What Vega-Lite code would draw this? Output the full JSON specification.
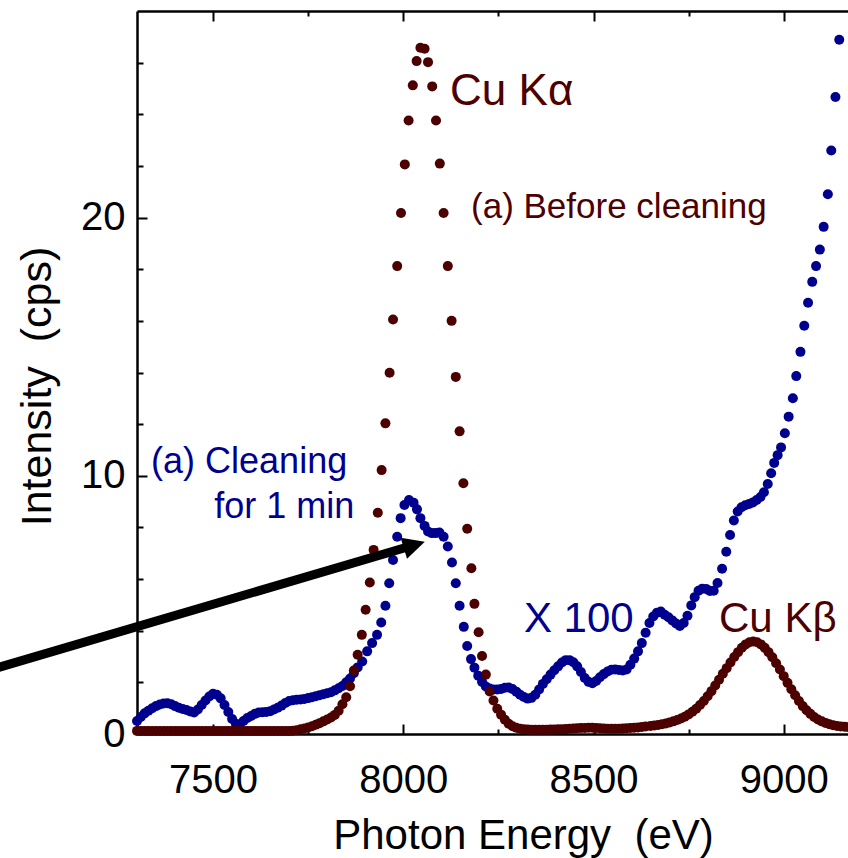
{
  "$schema": "https://vega.github.io/schema/vega-lite/v6.json",
  "width": 711,
  "height": 723,
  "autosize": {"type": "none"},
  "padding": {"left": 137, "top": 11, "right": 0, "bottom": 124},
  "background": "white",
  "config": {
    "view": {"stroke": null},
    "font": "Liberation Sans",
    "axis": {
      "grid": false,
      "labelFont": "Liberation Sans",
      "titleFont": "Liberation Sans",
      "labelColor": "#000000",
      "titleColor": "#000000",
      "domainColor": "#000000",
      "tickColor": "#000000",
      "titleFontWeight": "normal",
      "labelFlush": false,
      "labelOverlap": false
    }
  },
  "resolve": {"axis": {"x": "independent", "y": "independent"}},
  "datasets": {
    "before": [
      {"energy":7300,"intensity":0.12},{"energy":7310,"intensity":0.12},{"energy":7320,"intensity":0.12},{"energy":7330,"intensity":0.12},{"energy":7340,"intensity":0.12},{"energy":7350,"intensity":0.12},{"energy":7360,"intensity":0.12},{"energy":7370,"intensity":0.12},{"energy":7380,"intensity":0.12},{"energy":7390,"intensity":0.12},
      {"energy":7400,"intensity":0.12},{"energy":7410,"intensity":0.12},{"energy":7420,"intensity":0.12},{"energy":7430,"intensity":0.12},{"energy":7440,"intensity":0.12},{"energy":7450,"intensity":0.12},{"energy":7460,"intensity":0.12},{"energy":7470,"intensity":0.12},{"energy":7480,"intensity":0.12},{"energy":7490,"intensity":0.12},
      {"energy":7500,"intensity":0.12},{"energy":7510,"intensity":0.12},{"energy":7520,"intensity":0.12},{"energy":7530,"intensity":0.12},{"energy":7540,"intensity":0.12},{"energy":7550,"intensity":0.12},{"energy":7560,"intensity":0.12},{"energy":7570,"intensity":0.12},{"energy":7580,"intensity":0.12},{"energy":7590,"intensity":0.12},
      {"energy":7600,"intensity":0.12},{"energy":7610,"intensity":0.12},{"energy":7620,"intensity":0.12},{"energy":7630,"intensity":0.12},{"energy":7640,"intensity":0.12},{"energy":7650,"intensity":0.12},{"energy":7660,"intensity":0.12},{"energy":7670,"intensity":0.12},{"energy":7680,"intensity":0.12},{"energy":7690,"intensity":0.12},
      {"energy":7700,"intensity":0.12},{"energy":7710,"intensity":0.13},{"energy":7720,"intensity":0.15},{"energy":7730,"intensity":0.18},{"energy":7740,"intensity":0.21},{"energy":7750,"intensity":0.25},{"energy":7760,"intensity":0.3},{"energy":7770,"intensity":0.36},{"energy":7780,"intensity":0.42},{"energy":7790,"intensity":0.49},
      {"energy":7800,"intensity":0.56},{"energy":7810,"intensity":0.64},{"energy":7820,"intensity":0.74},{"energy":7830,"intensity":0.9},{"energy":7840,"intensity":1.15},{"energy":7850,"intensity":1.42},{"energy":7860,"intensity":1.85},{"energy":7870,"intensity":2.46},{"energy":7880,"intensity":3.07},{"energy":7891,"intensity":3.84},
      {"energy":7901,"intensity":4.81},{"energy":7912,"intensity":5.87},{"energy":7922,"intensity":7.13},{"energy":7933,"intensity":8.57},{"energy":7943,"intensity":10.22},{"energy":7953,"intensity":12.03},{"energy":7964,"intensity":13.99},{"energy":7973,"intensity":16.05},{"energy":7984,"intensity":18.12},{"energy":7994,"intensity":20.18},
      {"energy":8004,"intensity":22.06},{"energy":8014,"intensity":23.76},{"energy":8025,"intensity":25.12},{"energy":8035,"intensity":26.06},{"energy":8045,"intensity":26.58},{"energy":8056,"intensity":26.54},{"energy":8065,"intensity":26.02},{"energy":8076,"intensity":25.08},{"energy":8086,"intensity":23.76},{"energy":8096,"intensity":22.09},
      {"energy":8106,"intensity":20.18},{"energy":8117,"intensity":18.12},{"energy":8127,"intensity":16.0},{"energy":8138,"intensity":13.83},{"energy":8148,"intensity":11.72},{"energy":8158,"intensity":9.71},{"energy":8168,"intensity":7.95},{"energy":8179,"intensity":6.42},{"energy":8187,"intensity":5.04},{"energy":8198,"intensity":3.94},
      {"energy":8207,"intensity":3.02},{"energy":8217,"intensity":2.3},{"energy":8227,"intensity":1.65},{"energy":8237,"intensity":1.3},{"energy":8247,"intensity":0.98},{"energy":8257,"intensity":0.75},{"energy":8267,"intensity":0.55},{"energy":8277,"intensity":0.4},{"energy":8287,"intensity":0.3},{"energy":8297,"intensity":0.24},
      {"energy":8307,"intensity":0.2},{"energy":8317,"intensity":0.18},{"energy":8327,"intensity":0.17},{"energy":8337,"intensity":0.16},{"energy":8347,"intensity":0.16},{"energy":8357,"intensity":0.16},{"energy":8367,"intensity":0.16},{"energy":8377,"intensity":0.16},{"energy":8387,"intensity":0.17},{"energy":8397,"intensity":0.17},
      {"energy":8407,"intensity":0.18},{"energy":8417,"intensity":0.18},{"energy":8427,"intensity":0.19},{"energy":8437,"intensity":0.2},{"energy":8447,"intensity":0.21},{"energy":8457,"intensity":0.22},{"energy":8467,"intensity":0.23},{"energy":8477,"intensity":0.23},{"energy":8487,"intensity":0.24},{"energy":8497,"intensity":0.24},
      {"energy":8507,"intensity":0.23},{"energy":8517,"intensity":0.22},{"energy":8527,"intensity":0.21},{"energy":8537,"intensity":0.2},{"energy":8547,"intensity":0.2},{"energy":8557,"intensity":0.2},{"energy":8567,"intensity":0.2},{"energy":8577,"intensity":0.21},{"energy":8587,"intensity":0.22},{"energy":8597,"intensity":0.23},
      {"energy":8607,"intensity":0.24},{"energy":8617,"intensity":0.25},{"energy":8627,"intensity":0.27},{"energy":8637,"intensity":0.29},
      {"energy":8650,"intensity":0.31},{"energy":8660,"intensity":0.33},{"energy":8670,"intensity":0.35},{"energy":8680,"intensity":0.38},{"energy":8690,"intensity":0.41},{"energy":8700,"intensity":0.45},{"energy":8710,"intensity":0.49},{"energy":8720,"intensity":0.54},{"energy":8730,"intensity":0.6},{"energy":8740,"intensity":0.67},
      {"energy":8750,"intensity":0.76},{"energy":8760,"intensity":0.86},{"energy":8770,"intensity":0.98},{"energy":8780,"intensity":1.12},{"energy":8790,"intensity":1.28},{"energy":8800,"intensity":1.46},{"energy":8810,"intensity":1.66},{"energy":8820,"intensity":1.88},{"energy":8830,"intensity":2.1},{"energy":8840,"intensity":2.33},
      {"energy":8850,"intensity":2.55},{"energy":8860,"intensity":2.77},{"energy":8870,"intensity":2.98},{"energy":8880,"intensity":3.17},{"energy":8890,"intensity":3.34},{"energy":8900,"intensity":3.47},{"energy":8910,"intensity":3.55},{"energy":8920,"intensity":3.58},{"energy":8930,"intensity":3.55},{"energy":8940,"intensity":3.47},
      {"energy":8950,"intensity":3.34},{"energy":8960,"intensity":3.17},{"energy":8970,"intensity":2.97},{"energy":8980,"intensity":2.74},{"energy":8990,"intensity":2.5},{"energy":9000,"intensity":2.24},{"energy":9010,"intensity":1.98},{"energy":9020,"intensity":1.73},{"energy":9030,"intensity":1.5},{"energy":9040,"intensity":1.28},
      {"energy":9050,"intensity":1.08},{"energy":9060,"intensity":0.92},{"energy":9070,"intensity":0.78},{"energy":9080,"intensity":0.66},{"energy":9090,"intensity":0.56},{"energy":9100,"intensity":0.49},{"energy":9110,"intensity":0.43},{"energy":9120,"intensity":0.38},{"energy":9130,"intensity":0.34},{"energy":9140,"intensity":0.31},
      {"energy":9150,"intensity":0.29},{"energy":9160,"intensity":0.28},{"energy":9170,"intensity":0.27}
    ],
    "after": [
      {"energy":7300,"intensity":0.5},{"energy":7310,"intensity":0.66},{"energy":7320,"intensity":0.8},{"energy":7330,"intensity":0.9},{"energy":7340,"intensity":1.0},{"energy":7350,"intensity":1.08},{"energy":7360,"intensity":1.14},{"energy":7370,"intensity":1.18},{"energy":7380,"intensity":1.19},{"energy":7390,"intensity":1.15},
      {"energy":7400,"intensity":1.08},{"energy":7410,"intensity":1.02},{"energy":7420,"intensity":0.97},{"energy":7430,"intensity":0.93},{"energy":7440,"intensity":0.87},{"energy":7450,"intensity":0.83},{"energy":7460,"intensity":0.95},{"energy":7470,"intensity":1.12},{"energy":7480,"intensity":1.3},{"energy":7490,"intensity":1.45},
      {"energy":7500,"intensity":1.56},{"energy":7510,"intensity":1.52},{"energy":7520,"intensity":1.38},{"energy":7530,"intensity":1.12},{"energy":7540,"intensity":0.85},{"energy":7550,"intensity":0.58},{"energy":7560,"intensity":0.4},{"energy":7570,"intensity":0.37},{"energy":7580,"intensity":0.5},{"energy":7590,"intensity":0.62},
      {"energy":7600,"intensity":0.7},{"energy":7610,"intensity":0.78},{"energy":7620,"intensity":0.83},{"energy":7630,"intensity":0.84},{"energy":7640,"intensity":0.85},{"energy":7650,"intensity":0.88},{"energy":7660,"intensity":0.95},{"energy":7670,"intensity":1.02},{"energy":7680,"intensity":1.1},{"energy":7690,"intensity":1.2},
      {"energy":7700,"intensity":1.28},{"energy":7710,"intensity":1.31},{"energy":7720,"intensity":1.33},{"energy":7730,"intensity":1.34},{"energy":7740,"intensity":1.36},{"energy":7750,"intensity":1.39},{"energy":7760,"intensity":1.42},{"energy":7770,"intensity":1.46},{"energy":7780,"intensity":1.5},{"energy":7790,"intensity":1.54},
      {"energy":7800,"intensity":1.58},{"energy":7810,"intensity":1.62},{"energy":7820,"intensity":1.69},{"energy":7830,"intensity":1.77},{"energy":7840,"intensity":1.86},{"energy":7850,"intensity":2.0},{"energy":7860,"intensity":2.15},{"energy":7870,"intensity":2.35},{"energy":7880,"intensity":2.58},{"energy":7892,"intensity":2.81},
      {"energy":7905,"intensity":3.2},{"energy":7918,"intensity":3.52},{"energy":7931,"intensity":3.84},{"energy":7942,"intensity":4.32},{"energy":7953,"intensity":4.97},{"energy":7963,"intensity":5.84},{"energy":7973,"intensity":6.74},{"energy":7984,"intensity":7.64},{"energy":7993,"intensity":8.36},{"energy":8003,"intensity":8.87},
      {"energy":8015,"intensity":9.06},{"energy":8027,"intensity":8.96},{"energy":8036,"intensity":8.7},{"energy":8045,"intensity":8.36},{"energy":8056,"intensity":8.06},{"energy":8065,"intensity":7.84},{"energy":8075,"intensity":7.78},{"energy":8085,"intensity":7.78},{"energy":8095,"intensity":7.8},{"energy":8106,"intensity":7.64},
      {"energy":8117,"intensity":7.26},{"energy":8128,"intensity":6.64},{"energy":8138,"intensity":5.84},{"energy":8148,"intensity":4.97},{"energy":8159,"intensity":4.15},{"energy":8168,"intensity":3.41},{"energy":8178,"intensity":2.9},{"energy":8187,"intensity":2.57},{"energy":8197,"intensity":2.26},{"energy":8207,"intensity":2.02},
      {"energy":8217,"intensity":1.84},{"energy":8227,"intensity":1.76},{"energy":8237,"intensity":1.72},{"energy":8247,"intensity":1.72},{"energy":8257,"intensity":1.74},{"energy":8267,"intensity":1.79},{"energy":8277,"intensity":1.8},{"energy":8287,"intensity":1.74},{"energy":8297,"intensity":1.64},{"energy":8307,"intensity":1.52},
      {"energy":8317,"intensity":1.43},{"energy":8327,"intensity":1.37},{"energy":8337,"intensity":1.4},{"energy":8347,"intensity":1.52},{"energy":8357,"intensity":1.72},{"energy":8367,"intensity":1.94},{"energy":8377,"intensity":2.12},{"energy":8387,"intensity":2.3},{"energy":8397,"intensity":2.47},{"energy":8407,"intensity":2.62},
      {"energy":8417,"intensity":2.77},{"energy":8427,"intensity":2.86},{"energy":8437,"intensity":2.86},{"energy":8447,"intensity":2.78},{"energy":8457,"intensity":2.62},{"energy":8467,"intensity":2.4},{"energy":8477,"intensity":2.17},{"energy":8487,"intensity":2.02},{"energy":8497,"intensity":1.97},{"energy":8507,"intensity":2.05},
      {"energy":8517,"intensity":2.2},{"energy":8527,"intensity":2.32},{"energy":8537,"intensity":2.42},{"energy":8547,"intensity":2.49},{"energy":8557,"intensity":2.5},{"energy":8567,"intensity":2.48},{"energy":8577,"intensity":2.46},{"energy":8587,"intensity":2.5},{"energy":8597,"intensity":2.68},{"energy":8607,"intensity":2.92},
      {"energy":8617,"intensity":3.2},{"energy":8627,"intensity":3.52},{"energy":8637,"intensity":3.92},{"energy":8647,"intensity":4.3},{"energy":8657,"intensity":4.55},{"energy":8667,"intensity":4.7},{"energy":8677,"intensity":4.74},{"energy":8687,"intensity":4.62},{"energy":8697,"intensity":4.52},{"energy":8707,"intensity":4.4},
      {"energy":8717,"intensity":4.28},{"energy":8727,"intensity":4.18},{"energy":8737,"intensity":4.3},{"energy":8747,"intensity":4.58},{"energy":8757,"intensity":4.98},{"energy":8766,"intensity":5.3},{"energy":8776,"intensity":5.55},{"energy":8786,"intensity":5.63},{"energy":8796,"intensity":5.62},{"energy":8806,"intensity":5.54},
      {"energy":8816,"intensity":5.55},{"energy":8826,"intensity":5.85},{"energy":8838,"intensity":6.4},{"energy":8849,"intensity":7.06},{"energy":8859,"intensity":7.71},{"energy":8869,"intensity":8.27},{"energy":8879,"intensity":8.62},{"energy":8889,"intensity":8.78},{"energy":8899,"intensity":8.86},{"energy":8909,"intensity":8.91},
      {"energy":8919,"intensity":8.97},{"energy":8929,"intensity":9.06},{"energy":8939,"intensity":9.18},{"energy":8948,"intensity":9.36},{"energy":8958,"intensity":9.68},{"energy":8967,"intensity":10.1},{"energy":8975,"intensity":10.5},{"energy":8984,"intensity":10.8},{"energy":8993,"intensity":11.1},{"energy":9003,"intensity":11.65},
      {"energy":9013,"intensity":12.29},{"energy":9024,"intensity":13.0},{"energy":9033,"intensity":13.86},{"energy":9044,"intensity":14.8},{"energy":9054,"intensity":15.81},{"energy":9064,"intensity":16.7},{"energy":9075,"intensity":17.51},{"energy":9085,"intensity":18.12},{"energy":9095,"intensity":18.76},{"energy":9105,"intensity":19.64},
      {"energy":9116,"intensity":20.9},{"energy":9125,"intensity":22.6},{"energy":9136,"intensity":24.67},{"energy":9146,"intensity":26.89}
    ]
  },
  "layer": [
    {
      "data": {"name": "after"},
      "mark": {"type": "circle", "size": 100, "color": "#00008f", "opacity": 1},
      "encoding": {
        "x": {"field": "energy", "type": "quantitative", "scale": {"domain": [7300, 9169], "nice": false, "zero": false},
              "axis": {"orient": "top", "ticks": false, "labels": false, "domain": true, "domainWidth": 2.5, "title": null}},
        "y": {"field": "intensity", "type": "quantitative", "scale": {"domain": [0, 28], "nice": false, "zero": false},
              "axis": {"orient": "left", "values": [2,4,6,8,12,14,16,18,22,24,26], "labels": false, "domain": false, "tickSize": 6, "tickWidth": 2, "offset": -6, "title": null}}
      }
    },
    {
      "data": {"name": "before"},
      "mark": {"type": "circle", "size": 100, "color": "#4c0000", "opacity": 1},
      "encoding": {
        "x": {"field": "energy", "type": "quantitative", "scale": {"domain": [7300, 9169], "nice": false, "zero": false},
              "axis": {"orient": "bottom", "values": [7500, 8000, 8500, 9000], "format": "d", "ticks": false, "domain": true, "domainWidth": 2.5,
                       "labelFontSize": 40, "labelPadding": 58, "labelBaseline": "alphabetic",
                       "title": "Photon Energy \u00a0(eV)", "titleFontSize": 42, "titleX": 386, "titleY": 114, "titleBaseline": "alphabetic", "titleAlign": "center"}},
        "y": {"field": "intensity", "type": "quantitative", "scale": {"domain": [0, 28], "nice": false, "zero": false},
              "axis": {"orient": "left", "values": [0, 10, 20], "ticks": false, "domain": true, "domainWidth": 2.5,
                       "labelFontSize": 40, "labelPadding": 12,
                       "title": "Intensity \u00a0(cps)", "titleFontSize": 43, "titleX": -87, "titleY": 375, "titleAngle": -90, "titleBaseline": "alphabetic", "titleAlign": "center"}}
      }
    },
    {
      "data": {"values": [{"energy": 6930, "intensity": 2.55, "energy2": 8029, "intensity2": 7.32}]},
      "mark": {"type": "rule", "color": "#000000", "strokeWidth": 9},
      "encoding": {
        "x": {"field": "energy", "type": "quantitative", "scale": {"domain": [7300, 9169], "nice": false, "zero": false},
              "axis": {"orient": "bottom", "values": [7500, 8000, 8500, 9000], "labels": false, "domain": false, "tickSize": 10, "tickWidth": 2, "offset": -10, "title": null}},
        "y": {"field": "intensity", "type": "quantitative", "scale": {"domain": [0, 28], "nice": false, "zero": false},
              "axis": {"orient": "left", "values": [10, 20], "labels": false, "domain": false, "tickSize": 10, "tickWidth": 2, "offset": -10, "title": null}},
        "x2": {"field": "energy2"},
        "y2": {"field": "intensity2"}
      }
    },
    {
      "data": {"values": [{"energy": 8029, "intensity": 7.32}]},
      "mark": {"type": "point", "shape": "M1,0L-1,-1L-1,1Z", "size": 484, "angle": -17, "filled": true, "color": "#000000", "opacity": 1},
      "encoding": {
        "x": {"field": "energy", "type": "quantitative", "scale": {"domain": [7300, 9169], "nice": false, "zero": false},
              "axis": {"orient": "bottom", "values": [7750, 8250, 8750], "labels": false, "domain": false, "tickSize": 5, "tickWidth": 2, "offset": -5, "title": null}},
        "y": {"field": "intensity", "type": "quantitative", "scale": {"domain": [0, 28], "nice": false, "zero": false}, "axis": null}
      }
    },
    {
      "data": {"values": [{"energy": 8123, "intensity": 24.36, "label": "Cu Kα"}]},
      "mark": {"type": "text", "align": "left", "baseline": "alphabetic", "fontSize": 44, "font": "Liberation Sans", "color": "#4c0000"},
      "encoding": {
        "x": {"field": "energy", "type": "quantitative", "scale": {"domain": [7300, 9169], "nice": false, "zero": false},
              "axis": {"orient": "top", "values": [7500, 8000, 8500, 9000], "labels": false, "domain": false, "tickSize": 10, "tickWidth": 2, "offset": -10, "title": null}},
        "y": {"field": "intensity", "type": "quantitative", "scale": {"domain": [0, 28], "nice": false, "zero": false}, "axis": null},
        "text": {"field": "label"}
      }
    },
    {
      "data": {"values": [{"energy": 8178, "intensity": 19.97, "label": "(a) Before cleaning"}]},
      "mark": {"type": "text", "align": "left", "baseline": "alphabetic", "fontSize": 35, "font": "Liberation Sans", "color": "#4c0000"},
      "encoding": {
        "x": {"field": "energy", "type": "quantitative", "scale": {"domain": [7300, 9169], "nice": false, "zero": false},
              "axis": {"orient": "top", "values": [7750, 8250, 8750], "labels": false, "domain": false, "tickSize": 5, "tickWidth": 2, "offset": -5, "title": null}},
        "y": {"field": "intensity", "type": "quantitative", "scale": {"domain": [0, 28], "nice": false, "zero": false}, "axis": null},
        "text": {"field": "label"}
      }
    },
    {
      "data": {"values": [{"energy": 7337, "intensity": 10.1, "label": "(a) Cleaning"}, {"energy": 7503, "intensity": 8.35, "label": "for 1 min"}]},
      "mark": {"type": "text", "align": "left", "baseline": "alphabetic", "fontSize": 36, "font": "Liberation Sans", "color": "#00008f"},
      "encoding": {
        "x": {"field": "energy", "type": "quantitative", "scale": {"domain": [7300, 9169], "nice": false, "zero": false}, "axis": null},
        "y": {"field": "intensity", "type": "quantitative", "scale": {"domain": [0, 28], "nice": false, "zero": false}, "axis": null},
        "text": {"field": "label"}
      }
    },
    {
      "data": {"values": [{"energy": 8317, "intensity": 3.96, "label": "X 100"}]},
      "mark": {"type": "text", "align": "left", "baseline": "alphabetic", "fontSize": 42, "font": "Liberation Sans", "color": "#00008f"},
      "encoding": {
        "x": {"field": "energy", "type": "quantitative", "scale": {"domain": [7300, 9169], "nice": false, "zero": false}, "axis": null},
        "y": {"field": "intensity", "type": "quantitative", "scale": {"domain": [0, 28], "nice": false, "zero": false}, "axis": null},
        "text": {"field": "label"}
      }
    },
    {
      "data": {"values": [{"energy": 8830, "intensity": 3.96, "label": "Cu Kβ"}]},
      "mark": {"type": "text", "align": "left", "baseline": "alphabetic", "fontSize": 42, "font": "Liberation Sans", "color": "#4c0000"},
      "encoding": {
        "x": {"field": "energy", "type": "quantitative", "scale": {"domain": [7300, 9169], "nice": false, "zero": false}, "axis": null},
        "y": {"field": "intensity", "type": "quantitative", "scale": {"domain": [0, 28], "nice": false, "zero": false}, "axis": null},
        "text": {"field": "label"}
      }
    }
  ]
}
